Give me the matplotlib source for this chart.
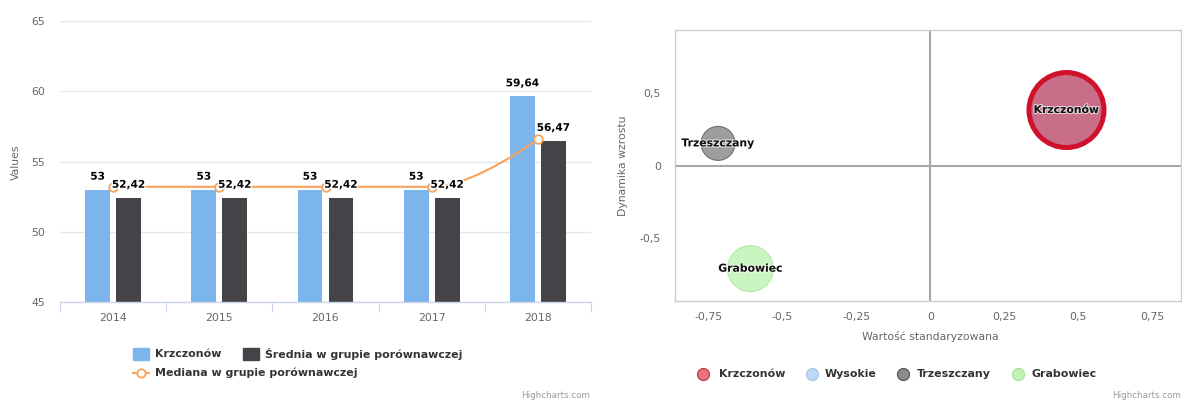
import matplotlib
matplotlib.use("Agg")
import matplotlib.pyplot as plt
from matplotlib.path import Path
from matplotlib.patches import PathPatch, Rectangle
from matplotlib.lines import Line2D
import matplotlib.patheffects as pe
from matplotlib.ticker import FixedLocator, FuncFormatter
import numpy as np

plt.rcParams['font.family'] = ['DejaVu Sans']

# --- bar / spline chart data ---
years = ["2014", "2015", "2016", "2017", "2018"]
krzczonow = [53, 53, 53, 53, 59.64]
srednia = [52.42, 52.42, 52.42, 52.42, 56.47]
mediana = [53.2, 53.2, 53.2, 53.2, 56.6]

# --- bubble chart data ---
bubble_names = ["Krzczonów", "Trzeszczany", "Grabowiec"]
bubble_x = [0.46, -0.7175, -0.608]
bubble_y = [0.384, 0.154, -0.71]
bubble_z = [100, 20.5, 37.6]
legend_names = ["Krzczonów", "Wysokie", "Trzeszczany", "Grabowiec"]

W, H = 1182, 401
fig = plt.figure(figsize=(W / 100, H / 100), dpi=100)


def fx(px):
    return px / W


def fy(py):
    return 1 - py / H


def pl_num(v):
    return f"{v:g}".replace('.', ',')


GRID = '#e6e6e6'
TICK = '#666666'
TEXT = '#333333'
BLUE = '#7cb5ec'
DARK = '#434348'
ORANGE = '#f7a35c'


def spline_path(xs, ys, smoothing=1.5):
    n = len(xs)
    denom = smoothing + 1
    lc = [(xs[i], ys[i]) for i in range(n)]
    rc = [(xs[i], ys[i]) for i in range(n)]
    for i in range(1, n - 1):
        px, py = xs[i], ys[i]
        lx, ly = xs[i - 1], ys[i - 1]
        nx, ny = xs[i + 1], ys[i + 1]
        lcx = (smoothing * px + lx) / denom
        lcy = (smoothing * py + ly) / denom
        rcx = (smoothing * px + nx) / denom
        rcy = (smoothing * py + ny) / denom
        if rcx != lcx:
            corr = (rcy - lcy) * (rcx - px) / (rcx - lcx) + py - rcy
            lcy += corr
            rcy += corr
        if lcy > ly and lcy > py:
            lcy = max(ly, py)
            rcy = 2 * py - lcy
        elif lcy < ly and lcy < py:
            lcy = min(ly, py)
            rcy = 2 * py - lcy
        if rcy > ny and rcy > py:
            rcy = max(ny, py)
            lcy = 2 * py - rcy
        elif rcy < ny and rcy < py:
            rcy = min(ny, py)
            lcy = 2 * py - rcy
        lc[i] = (lcx, lcy)
        rc[i] = (rcx, rcy)
    verts = [(xs[0], ys[0])]
    codes = [Path.MOVETO]
    for i in range(1, n):
        verts += [rc[i - 1], lc[i], (xs[i], ys[i])]
        codes += [Path.CURVE4] * 3
    return Path(verts, codes)


# ================= left: column chart =================
ax = fig.add_axes([fx(60), fy(302), (591 - 60) / W, (302 - 21) / H])
x = np.arange(len(years))
off, bw = 0.146, 0.235
ax.bar(x - off, krzczonow, width=bw, color=BLUE, zorder=2)
ax.bar(x + off, srednia, width=bw, color=DARK, zorder=2)

ax.set_xlim(-0.5, len(years) - 0.5)
ax.set_ylim(45, 65)
ax.yaxis.set_major_locator(FixedLocator([45, 50, 55, 60, 65]))
ax.grid(axis='y', color=GRID, lw=1, zorder=0)
ax.set_axisbelow(True)
for s in ['top', 'right', 'left']:
    ax.spines[s].set_visible(False)
ax.spines['bottom'].set_color('#ccd6eb')
ax.spines['bottom'].set_linewidth(1)

ax.set_xticks(x)
ax.set_xticklabels(years)
ax.set_xticks(np.arange(-0.5, len(years)), minor=True)
ax.tick_params(axis='x', which='major', length=0, pad=8, labelsize=7.8, colors=TICK)
ax.tick_params(axis='x', which='minor', length=7.2, width=0.8, color='#ccd6eb')
ax.tick_params(axis='y', length=0, pad=11, labelsize=7.8, colors=TICK)
ax.yaxis.set_major_formatter(FuncFormatter(lambda v, p: pl_num(v)))
fig.text(fx(16), fy(162), "Values", rotation=90, ha='center', va='center',
         fontsize=7.8, color=TICK)

# median spline with open markers
ax.add_patch(PathPatch(spline_path(list(x), mediana), fill=False,
                       edgecolor=ORANGE, lw=1.5, zorder=3))
ax.plot(x, mediana, 'o', ms=6.2, mfc='white', mec=ORANGE, mew=1.3,
        zorder=4, clip_on=False)

# value labels
outline = [pe.withStroke(linewidth=2, foreground='white')]
for xi, v in zip(x - off, krzczonow):
    ax.annotate(pl_num(v), (xi, v), xytext=(0, 7.2), textcoords='offset points',
                ha='center', va='baseline', fontsize=7.6, fontweight='bold',
                color='black', path_effects=outline, zorder=5)
for xi, v in zip(x + off, srednia):
    ax.annotate(pl_num(v), (xi, v), xytext=(0, 7.2), textcoords='offset points',
                ha='center', va='baseline', fontsize=7.6, fontweight='bold',
                color='black', path_effects=outline, zorder=5)

# left legend
fig.add_artist(Rectangle((fx(133), fy(360)), 16 / W, 12 / H,
                         transform=fig.transFigure, color=BLUE))
fig.text(fx(155), fy(354), "Krzczonów", ha='left', va='center',
         fontsize=7.9, fontweight='bold', color=TEXT)
fig.add_artist(Rectangle((fx(243), fy(360)), 16 / W, 12 / H,
                         transform=fig.transFigure, color=DARK))
fig.text(fx(265), fy(354), "Średnia w grupie porównawczej", ha='left',
         va='center', fontsize=7.9, fontweight='bold', color=TEXT)
fig.add_artist(Line2D([fx(133), fx(149)], [fy(373), fy(373)],
                      transform=fig.transFigure, color=ORANGE, lw=1.5))
fig.add_artist(Line2D([fx(141)], [fy(373)], transform=fig.transFigure,
                      marker='o', ms=6, mfc='white', mec=ORANGE, mew=1.3))
fig.text(fx(155), fy(373), "Mediana w grupie porównawczej", ha='left',
         va='center', fontsize=7.9, fontweight='bold', color=TEXT)
fig.text(fx(590), fy(396), "Highcharts.com", ha='right', va='center',
         fontsize=6.3, color='#999999')

# ================= right: bubble chart =================
ax2 = fig.add_axes([fx(675), fy(301), (1181 - 675) / W, (301 - 30) / H])
ax2.set_xlim(-0.863, 0.847)
ax2.set_ylim(-0.933, 0.936)
for s in ax2.spines.values():
    s.set_color('#cccccc')
    s.set_linewidth(1)
ax2.axhline(0, color='#a8a8a8', lw=1.5, zorder=1)
ax2.axvline(0, color='#a8a8a8', lw=1.5, zorder=1)
ax2.xaxis.set_major_locator(FixedLocator([-0.75, -0.5, -0.25, 0, 0.25, 0.5, 0.75]))
ax2.yaxis.set_major_locator(FixedLocator([-0.5, 0, 0.5]))
ax2.xaxis.set_major_formatter(FuncFormatter(lambda v, p: pl_num(v)))
ax2.yaxis.set_major_formatter(FuncFormatter(lambda v, p: pl_num(v)))
ax2.tick_params(axis='x', length=0, pad=8, labelsize=7.8, colors=TICK)
ax2.tick_params(axis='y', length=0, pad=10, labelsize=7.8, colors=TICK)
fig.text(fx(623), fy(166), "Dynamika wzrostu", rotation=90, ha='center',
         va='center', fontsize=7.8, color=TICK)
fig.text(fx(930), fy(337), "Wartość standaryzowana", ha='center',
         va='center', fontsize=7.8, color=TICK)

fills = ['#c96e89', '#9d9d9d', '#c9f5c0']
edges = ['#d0112b', '#6f6f6f', '#b4e8a8']
widths = [3.6, 0.8, 0.8]
ax2.scatter(bubble_x, bubble_y, s=np.array(bubble_z) * 29.16, c=fills,
            edgecolors=edges, linewidths=widths, zorder=3)
label_outline = [pe.withStroke(linewidth=1.5, foreground='white', alpha=0.7)]
for name, bx, by in zip(bubble_names, bubble_x, bubble_y):
    ax2.text(bx, by, name, ha='center', va='center', fontsize=7.8,
             fontweight='bold', color='#111111', path_effects=label_outline,
             zorder=5)

# right legend
leg_fill = ['#e8717f', '#bdd8f3', '#8c8c8c', '#c3f2b6']
leg_edge = ['#c23a4c', '#a6c6e8', '#555555', '#a8df98']
leg_cx = [703, 812, 903, 1018]
leg_tx = [719, 825, 917, 1031]
for name, fc, ec, cx, tx in zip(legend_names, leg_fill, leg_edge, leg_cx, leg_tx):
    fig.add_artist(Line2D([fx(cx)], [fy(374)], transform=fig.transFigure,
                          marker='o', ms=8.6, mfc=fc, mec=ec, mew=0.9))
    fig.text(fx(tx), fy(374), name, ha='left', va='center', fontsize=7.9,
             fontweight='bold', color=TEXT)
fig.text(fx(1181), fy(396), "Highcharts.com", ha='right', va='center',
         fontsize=6.3, color='#999999')

fig.savefig("out.png", dpi=100, facecolor='white')
